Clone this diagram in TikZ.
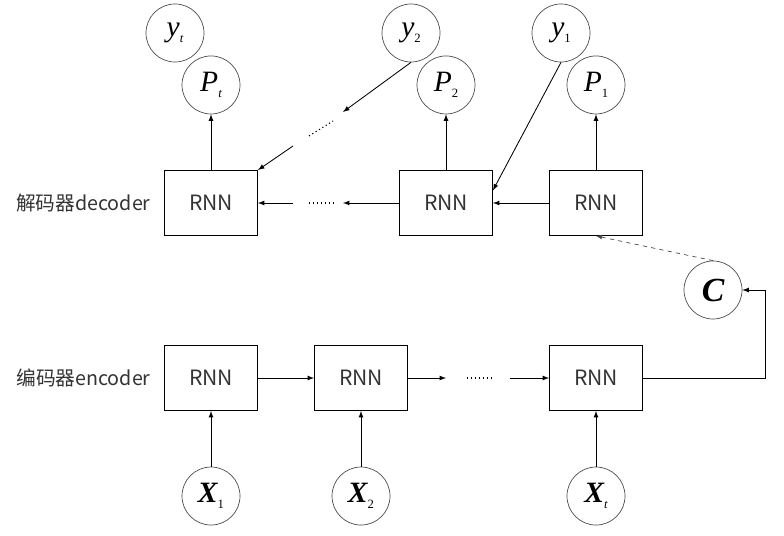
\documentclass[tikz,border=0pt]{standalone}
\usepackage{fontspec}
\usepackage{tikz}
\usetikzlibrary{arrows}
\newfontfamily\cjk{Noto Sans CJK SC}
\newfontfamily\tms{Liberation Serif}
% letter with a small index
\newcommand{\var}[2]{{#1}\raisebox{-0.45ex}{\fontsize{9}{9}\selectfont\mdseries\upshape #2}}

\begin{document}
\begin{tikzpicture}[->,>=latex,x=0.025cm,y=-0.025cm,node distance=2.95cm,
      line width=0.6pt,
      rnn/.style={rectangle,draw,minimum width=2.325cm,minimum height=1.625cm,
        inner sep=0pt,font=\cjk\fontsize{15}{16}\selectfont,text=black!80},
      unit/.style={circle,draw=black!70,line width=0.5pt,minimum size=1.45cm,
        inner sep=0pt,font=\tms\fontsize{21}{22}\selectfont},
      lbl/.style={anchor=east,inner sep=0pt,font=\cjk\fontsize{14}{16}\selectfont,text=black!80}]

      \useasboundingbox (0,0) rectangle (784,536);

      % decoder
      \node[rnn] (d1) at (211,203) {RNN};
      \node[rnn] (d2) at (446,203) {RNN};
      \node[rnn] (d3) at (596,203) {RNN};
      \node[lbl] (dec) at (151,203) {解码器decoder};

      \node[unit] (p3) [above of=d1] {\var{\itshape P}{\itshape t}};
      \node[unit] (p2) [above of=d2] {\var{\itshape P}{2}};
      \node[unit] (p1) [above of=d3] {\var{\itshape P}{1}};
      \node[unit] (y3) at (175,33) {\var{\itshape y}{\itshape t}};
      \node[unit] (y2) at (411,33) {\var{\itshape y}{2}};
      \node[unit] (y1) at (561,33) {\var{\itshape y}{1}};

      % encoder
      \node[rnn] (e1) at (211,378) {RNN};
      \node[rnn] (e2) at (361,378) {RNN};
      \node[rnn] (e3) at (596,378) {RNN};
      \node[lbl] (enc) at (151,378) {编码器encoder};

      \node[unit] (x1) [below of=e1] {\var{\bfseries\itshape X}{1}};
      \node[unit] (x2) [below of=e2] {\var{\bfseries\itshape X}{2}};
      \node[unit] (x3) [below of=e3] {\var{\bfseries\itshape X}{\itshape t}};

      \node[unit] (c) at (713,290) {\fontsize{24}{24}\selectfont\bfseries\itshape C};

      % free ends around the gaps
      \coordinate (da) at (343,203);
      \coordinate (db) at (293,203);
      \coordinate (ya) at (343,112);
      \coordinate (yb) at (293,146);
      \coordinate (ea) at (446,378);
      \coordinate (eb) at (510,378);
      \coordinate (turn) at (765,378);

      \path
      (d1) edge (p3)
      (d2) edge (p2)
      (d3) edge (p1)
      (d3) edge (d2)
      (d2) edge (da)
      (db) edge (d1)
      (y1.south) edge (d2.15)
      (y2.south) edge (ya)
      (yb) edge (d1.north east)
      (x1) edge (e1)
      (x2) edge (e2)
      (x3) edge (e3)
      (e1) edge (e2)
      (e2) edge (ea)
      (eb) edge (e3);

      \draw (e3) -- (turn) |- (c);
      \draw[dashed,line width=0.5pt,black!70] (c.north) -- (d3.south);

      \draw[-,dotted,line width=0.8pt] (309,203) -- (334,203);
      \draw[-,dotted,line width=0.8pt] (467,378) -- (492,378);
      \draw[-,dotted,line width=0.8pt] (309,136) -- (333,121);
    \end{tikzpicture}
\end{document}
